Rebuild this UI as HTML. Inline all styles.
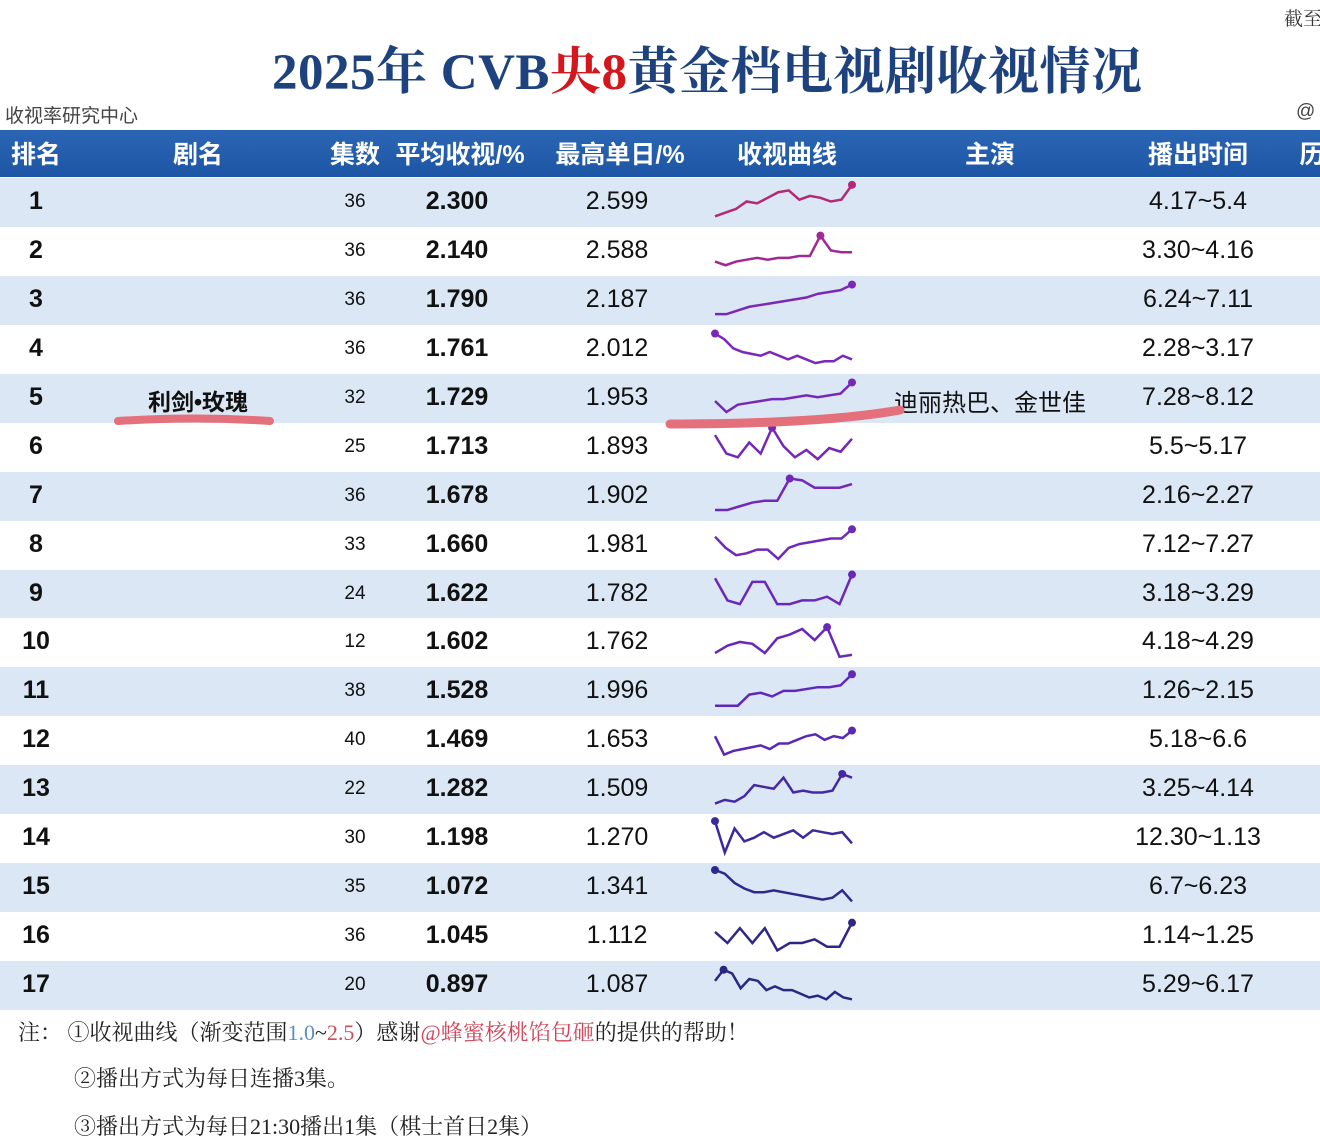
<!DOCTYPE html>
<html><head><meta charset="utf-8"><style>
body{margin:0;width:1320px;height:1146px;background:#fff;position:relative;overflow:hidden;font-family:"Liberation Sans","Noto Sans CJK SC",sans-serif}
.a{position:absolute;white-space:nowrap}
.hd{position:absolute;top:130px;left:0;width:1320px;height:47px;background:linear-gradient(#2b66b5,#1c55a3);color:#fff;font-weight:bold;font-size:25px}
.hd span{position:absolute;top:5px;transform:translateX(-50%)}
.row{position:absolute;left:0;width:1320px;height:49px;font-size:25px;color:#111}
.row span{position:absolute;top:9px;transform:translateX(-50%)}
.note{font-family:"Liberation Serif","Noto Serif CJK SC",serif;font-size:22px;color:#222}
</style></head><body>
<div class="a" style="left:1284px;top:4px;font-size:19px;color:#333;font-family:'Noto Serif CJK SC',serif">截至</div>
<div class="a" style="left:272px;top:30px;font-size:51px;font-weight:bold;color:#1d427e;font-family:'Liberation Serif','Noto Serif CJK SC',serif;letter-spacing:0.5px">2025年 CVB<span style="color:#d4161d">央8</span>黄金档电视剧收视情况</div>
<div class="a" style="left:5px;top:101px;font-size:19px;color:#444">收视率研究中心</div>
<div class="a" style="left:1296px;top:101px;font-size:19px;color:#444">@</div>
<div class="hd">
<span style="left:36px">排名</span><span style="left:198px">剧名</span><span style="left:355px">集数</span><span style="left:460px">平均收视/%</span><span style="left:620px">最高单日/%</span><span style="left:787px">收视曲线</span><span style="left:990px">主演</span><span style="left:1198px">播出时间</span><span style="left:1312px">历</span>
</div>
<div id="rows"></div>
<svg id="spark" class="a" style="left:0;top:0" width="1320" height="1146"></svg>
<div class="a note" style="left:18px;top:1016px">注：&nbsp;①收视曲线（渐变范围<span style="color:#5b8fc8">1.0</span>~<span style="color:#c8505a">2.5</span>）感谢<span style="color:#d2455a">@蜂蜜核桃馅包砸</span>的提供的帮助！</div>
<div class="a note" style="left:74px;top:1062px">②播出方式为每日连播3集。</div>
<div class="a note" style="left:74px;top:1110px">③播出方式为每日21:30播出1集（棋士首日2集）</div>
<script>
const ranks=[1,2,3,4,5,6,7,8,9,10,11,12,13,14,15,16,17];
const names=["","","","","利剑•玫瑰","","","","","","","","","","","",""];
const episodes=[36,36,36,36,32,25,36,33,24,12,38,40,22,30,35,36,20];
const avgRating=["2.300","2.140","1.790","1.761","1.729","1.713","1.678","1.660","1.622","1.602","1.528","1.469","1.282","1.198","1.072","1.045","0.897"];
const peakRating=["2.599","2.588","2.187","2.012","1.953","1.893","1.902","1.981","1.782","1.762","1.996","1.653","1.509","1.270","1.341","1.112","1.087"];
const casts=["","","","","迪丽热巴、金世佳","","","","","","","","","","","",""];
const airDates=["4.17~5.4","3.30~4.16","6.24~7.11","2.28~3.17","7.28~8.12","5.5~5.17","2.16~2.27","7.12~7.27","3.18~3.29","4.18~4.29","1.26~2.15","5.18~6.6","3.25~4.14","12.30~1.13","6.7~6.23","1.14~1.25","5.29~6.17"];
const curves=[
[1,2,3,5,4.5,6,7.5,8,5.5,6.5,6,5,5.5,9.5],
[2,1,2,2.5,3,2.5,3,3,3.5,3.5,9,5,4.5,4.5],
[1,1,2,3,3.5,4,4.5,5,5.5,6.5,7,7.5,9],
[9,7.5,5,4,3.5,3,4,3,2,3,2,1,1.5,1.5,3,2],
[4,1,3,3.5,4,4.5,4.5,5,5.5,5,5.5,6,9],
[8,3,2,6,3,10,5,2,4,1.5,4.5,3.5,7],
[1,1,2,3,3.5,3.5,9.5,9,7,7,7,8],
[7,4,2,2.5,3.5,3.5,1,4,5,5.5,6,6.5,6.5,9],
[9,3,2,8,8,2,2,3,3,4,2,10],
[2,4,5,4.5,2,6,7,8.5,5.5,9,1,1.5],
[1,1,1,4,4.5,3.5,5,5,5.5,6,6,6.5,9.5],
[6,1,2,2.5,3,3.5,2.5,4,4,5,6,6.5,5,6,5.5,7.5],
[1,2,1.5,3,6,5.5,5,8,4,4.5,4,4,4.5,9,8],
[9.5,1,7.5,4,5,6.5,5,6,7,5,7,6.5,6,6.5,3.5],
[9.5,8.5,6,4.5,3.5,3.5,4,3.5,3,2.5,2,1.5,2,4,1],
[6,3,7,3,7,1,3,3,4,2,2,8.5],
[6,9,8,4,6.5,6,3.5,4.5,3.5,3.5,2.5,1.5,2,1,3,1.5,1]];
const rowsEl=document.getElementById('rows'),svg=document.getElementById('spark');
const NS='http://www.w3.org/2000/svg';
const top0=178,rh=48.94;
function rowY(i){return top0+i*rh;}
function col(v){const t=Math.max(0,Math.min(1,(v-1.0)/1.5));
 const r=Math.round(40+t*(200-40)),g=40,b=Math.round(130+t*(80-130)+Math.sin(t*Math.PI)*80);return `rgb(${r},${g},${b})`;}
ranks.forEach((r,i)=>{
 const d=document.createElement('div');d.className='row';d.style.top=rowY(i)+'px';
 d.style.background=i%2==0?'#dbe7f5':'#fff';
 
 
 const cells=[[36,r,'font-weight:bold'],[198,names[i],'font-weight:bold;font-size:23px'],[355,episodes[i],'font-size:19px;top:13px'],[457,avgRating[i],'font-weight:bold'],[617,peakRating[i],''],[990,casts[i],'font-size:24px'],[1198,airDates[i],'']];
 cells.forEach(c=>{const s=document.createElement('span');s.style.left=c[0]+'px';s.style.cssText+=c[2];s.textContent=c[1];
 
 
 d.appendChild(s);});
 rowsEl.appendChild(d);
 const vals=curves[i],n=vals.length,x0=715,x1=852,yT=rowY(i)+5,yB=rowY(i)+42;
 const xs=k=>x0+(x1-x0)*k/(n-1),ys=v=>yB-(yB-yT)*v/10;
 const c=col(parseFloat(avgRating[i]));
 const p=document.createElementNS(NS,'polyline');
 p.setAttribute('points',vals.map((v,k)=>xs(k)+','+ys(v)).join(' '));
 p.setAttribute('fill','none');p.setAttribute('stroke',c);p.setAttribute('stroke-width','2.5');
 
 
 svg.appendChild(p);
 let m=0;vals.forEach((v,k)=>{if(v>vals[m])m=k;});
 const dot=document.createElementNS(NS,'circle');
 dot.setAttribute('cx',xs(m));dot.setAttribute('cy',ys(vals[m]));dot.setAttribute('r','4');dot.setAttribute('fill',c);
 
 
 svg.appendChild(dot);
});
const u1=document.createElementNS(NS,'path');
u1.setAttribute('d','M118 421 Q195 416 270 421');u1.setAttribute('stroke','#e3707a');u1.setAttribute('stroke-width','8');u1.setAttribute('fill','none');u1.setAttribute('stroke-linecap','round');


svg.appendChild(u1);
const u2=document.createElementNS(NS,'path');
u2.setAttribute('d','M670 424 Q820 424 900 410');u2.setAttribute('stroke','#e3707a');u2.setAttribute('stroke-width','9');u2.setAttribute('fill','none');u2.setAttribute('stroke-linecap','round');


svg.appendChild(u2);
</script>
</body></html>
